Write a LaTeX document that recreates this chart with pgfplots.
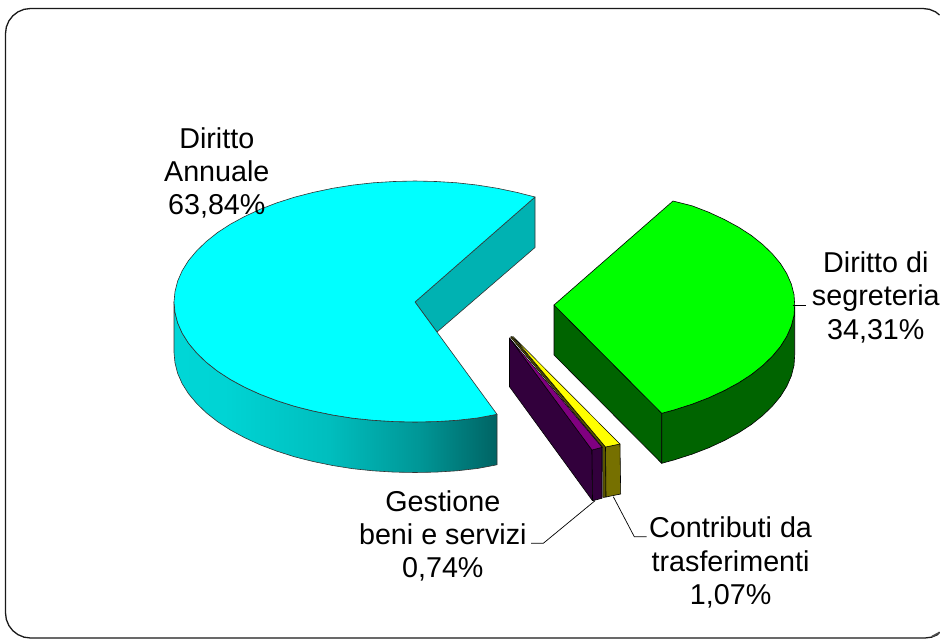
\documentclass[border=0pt]{standalone}
\usepackage{fontspec}
\setmainfont{Liberation Sans}
\usepackage{pgfplots}
\pgfplotsset{compat=1.18}
\pgfdeclarehorizontalshading{cyanside}{100bp}{
  rgb(0bp)=(0,0.84,0.84);
  rgb(25bp)=(0,0.84,0.84);
  rgb(33bp)=(0,0.83,0.83);
  rgb(49bp)=(0,0.745,0.745);
  rgb(63bp)=(0,0.59,0.59);
  rgb(75bp)=(0,0.39,0.39);
  rgb(100bp)=(0,0.39,0.39)}
\definecolor{cyantop}{RGB}{0,255,255}
\definecolor{cyanin}{RGB}{0,178,178}
\definecolor{greentop}{RGB}{0,255,0}
\definecolor{greenside}{RGB}{0,100,0}
\definecolor{purpletop}{RGB}{128,0,128}
\definecolor{purpleside}{RGB}{50,0,60}
\definecolor{yellowtop}{RGB}{255,255,0}
\definecolor{oliveside}{RGB}{118,112,0}
\definecolor{olivedark}{RGB}{90,85,0}
\begin{document}
\begin{tikzpicture}
\begin{axis}[
  scale only axis, width=940pt, height=639pt,
  xmin=0, xmax=940, ymin=0, ymax=639, y dir=reverse,
  hide axis, enlargelimits=false, clip=true,
  every axis plot/.append style={line join=round},
]
% page extent
\addplot[draw=none] coordinates {(0,0) (940,639)};
% frame
\addplot[draw=black!90, line width=1.3pt] coordinates {
 (939.5,632) (937.5,634.65) (931.5,637.15) (925,638)
 (30.5,638) (24,637.15) (18,634.65) (12.8,630.7) (8.85,625.5) (6.35,619.5) (5.5,613)
 (5.5,33.5) (6.35,27) (8.85,21) (12.8,15.8) (18,11.85) (24,9.35) (30.5,8.5)
 (923,8.5) (929.5,9.35) (935.5,11.85) (939.5,15)};
\addplot[draw=black!70, line width=1.6pt] coordinates {(932,636.5) (939.5,632.5)};
% green slice
\addplot[fill=greenside, draw=black, line width=0.6pt] coordinates {
 (554,305) (661.7,413.3) (661.7,463.3) (554,355)} --cycle;
\addplot[fill=greenside, draw=black, line width=0.6pt] coordinates {
 (661.7,413.3) (674.5,409.8) (692.3,404.1) (708.9,397.7) (724.4,390.5) (738.6,382.8)
 (751.4,374.5) (762.7,365.5) (772.3,356.2) (780.5,346.4) (786.8,336.3) (791.3,326)
 (794,315.5) (794.7,305) (794.7,355) (794,365.5) (791.3,376) (786.8,386.3) (780.5,396.4)
 (772.3,406.2) (762.7,415.5) (751.4,424.5) (738.6,432.8) (724.4,440.5) (708.9,447.7)
 (692.3,454.1) (674.5,459.8) (661.7,463.3)} --cycle;
\addplot[fill=greentop, draw=black, line width=0.6pt] coordinates {
 (554,305) (661.7,413.3) (674.5,409.8) (692.3,404.1) (708.9,397.7) (724.4,390.5) (738.6,382.8)
 (751.4,374.5) (762.7,365.5) (772.3,356.2) (780.5,346.4) (786.8,336.3) (791.3,326)
 (794,315.5) (794.7,305) (794,294.5) (791.3,284) (786.8,273.7) (780.5,263.6) (772.3,253.8)
 (762.7,244.5) (751.4,235.5) (738.6,227.2) (724.4,219.5) (708.9,212.3) (692.3,205.9) (673,201)} --cycle;
% cyan slice
\addplot[fill=cyanin, draw=black!80, line width=0.6pt] coordinates {
 (415,302) (535,197) (535,247.5) (437,332)} --cycle;
\addplot[shade, shading=cyanside, draw=black!80, line width=0.6pt] coordinates {
 (174,302) (175,312.5) (177.7,323) (182.2,333.2) (188.5,343.2) (196.7,353) (206.3,362.3)
 (217.6,371.2) (230.4,379.5) (244.6,387.2) (260.1,394.3) (276.7,400.6) (294.5,406.3)
 (313.1,411) (332.6,415) (352.6,418.2) (373.1,420.3) (394,421.6) (415,422) (436,421.6)
 (456.9,420.3) (477.4,418) (497,414.3)
 (497,464.8) (477.4,468.5) (456.9,470.8) (436,472.1) (415,472.5) (394,472.1) (373.1,470.8)
 (352.6,468.7) (332.6,465.5) (313.1,461.5) (294.5,456.8) (276.7,451.1) (260.1,444.8)
 (244.6,437.7) (230.4,430) (217.6,421.7) (206.3,412.8) (196.7,403.5) (188.5,393.7)
 (182.2,383.7) (177.7,373.5) (175,363) (174,352.5)} --cycle;
\addplot[fill=cyantop, draw=black!80, line width=0.6pt] coordinates {
 (415,302) (535,197) (516.9,192.4) (497.4,188.3) (477.4,185.1) (456.9,182.8) (436,181.5)
 (415,181) (394,181.5) (373.1,182.8) (352.6,185.1) (332.6,188.3) (313.1,192.4)
 (294.5,197.2) (276.7,202.9) (260.1,209.3) (244.6,216.5) (230.4,224.2) (217.6,232.5)
 (206.3,241.5) (196.7,250.8) (188.5,260.6) (182.2,270.7) (177.7,281) (175,291.5)
 (174,302) (175,312.5) (177.7,323) (182.2,333.2) (188.5,343.2) (196.7,353) (206.3,362.3)
 (217.6,371.2) (230.4,379.5) (244.6,387.2) (260.1,394.3) (276.7,400.6) (294.5,406.3)
 (313.1,411) (332.6,415) (352.6,418.2) (373.1,420.3) (394,421.6) (415,422) (436,421.6)
 (456.9,420.3) (477.4,418) (497,414.3)} --cycle;
% yellow slice
\addplot[fill=olivedark, draw=black, line width=0.5pt] coordinates {
 (512,336.5) (605.5,447) (606,497) (603,497.5) (602.5,447.3) (510.5,337)} --cycle;
\addplot[fill=oliveside, draw=black, line width=0.6pt] coordinates {
 (605.5,447) (620,444) (620.7,494) (606,497)} --cycle;
\addplot[fill=yellowtop, draw=black, line width=0.5pt] coordinates {
 (513,336.5) (605.5,447) (620,444)} --cycle;
% purple slice
\addplot[fill=purpleside, draw=black, line width=0.6pt] coordinates {
 (509.5,338) (592,450) (592.5,500.7) (509.5,386.7)} --cycle;
\addplot[fill=purpleside, draw=black, line width=0.6pt] coordinates {
 (592,450) (602,447.3) (602,498.3) (592.5,500.7)} --cycle;
\addplot[fill=purpletop, draw=black, line width=0.5pt] coordinates {
 (509.5,338) (592,450) (602,447.3)} --cycle;
% leaders
\addplot[draw=black, line width=0.7pt] coordinates {(792.7,305.7) (805.7,305.7)};
\addplot[draw=black, line width=0.7pt] coordinates {(531,543.3) (543.3,543.3) (595,500.7)};
\addplot[draw=black, line width=0.7pt] coordinates {(613.3,496.7) (634.3,536.7) (646.7,536.7)};
% labels
\node[align=center, inner sep=0pt, font=\fontsize{28.7}{33.3}\selectfont] at (axis cs:216.8,173) {Diritto\\Annuale\\63,84\%};
\node[align=center, inner sep=0pt, font=\fontsize{28.7}{33.3}\selectfont] at (axis cs:875.8,297.2) {Diritto di\\segreteria\\34,31\%};
\node[align=center, inner sep=0pt, font=\fontsize{28.7}{33.3}\selectfont] at (axis cs:442.8,536) {Gestione\\beni e servizi\\0,74\%};
\node[align=center, inner sep=0pt, font=\fontsize{28.7}{33.3}\selectfont] at (axis cs:730.6,562.5) {Contributi da\\trasferimenti\\1,07\%};
\end{axis}
\end{tikzpicture}
\end{document}
